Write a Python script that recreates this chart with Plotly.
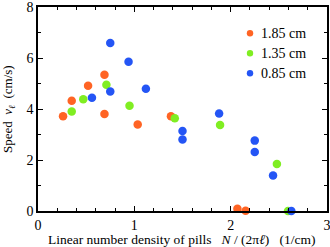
import plotly.graph_objects as go

# 1.85 cm series
x_185 = [0.26, 0.35, 0.52, 0.69, 0.69, 1.035, 1.38, 2.07, 2.155]
y_185 = [3.72, 4.32, 4.91, 5.34, 3.80, 3.39, 3.72, 0.09, 0.01]
# 1.35 cm series
x_135 = [0.35, 0.47, 0.71, 0.95, 1.42, 1.89, 2.48, 2.595]
y_135 = [3.90, 4.38, 4.95, 4.13, 3.64, 3.37, 1.84, 0.0]
# 0.85 cm series
x_085 = [0.56, 0.75, 0.75, 0.94, 1.12, 1.50, 1.50, 1.88, 2.25, 2.25, 2.44, 2.63]
y_085 = [4.44, 6.59, 4.69, 5.85, 4.79, 3.14, 2.80, 3.82, 2.76, 2.31, 1.39, 0.0]

names = ["1.85 cm", "1.35 cm", "0.85 cm"]
colors = ["#FF6424", "#80EE22", "#2455F5"]

FONT = "'Liberation Serif', 'Times New Roman', Times, serif"
fig = go.Figure()
for xs, ys, nm, c in zip([x_185, x_135, x_085], [y_185, y_135, y_085], names, colors):
    fig.add_trace(go.Scatter(x=xs, y=ys, mode="markers", name=nm, showlegend=False,
                             marker=dict(size=8.5, color=c, line=dict(width=0)),
                             cliponaxis=False))

# manual legend (paper coordinates)
leg_x_sym = 0.7336
leg_x_txt = 0.7647
leg_ys = [0.871, 0.773, 0.675]
for nm, c, ly in zip(names, colors, leg_ys):
    fig.add_shape(type="circle", xref="paper", yref="paper",
                  xsizemode="pixel", ysizemode="pixel",
                  xanchor=leg_x_sym, yanchor=ly, x0=-3.2, x1=3.2, y0=-3.2, y1=3.2,
                  fillcolor=c, line=dict(width=0))
    fig.add_annotation(xref="paper", yref="paper", x=leg_x_txt, y=ly,
                       xanchor="left", yanchor="middle", text=nm, showarrow=False,
                       font=dict(family=FONT, size=14, color="black"))

# axis titles
fig.add_annotation(xref="paper", yref="paper", x=-0.104, y=0.5, textangle=-90,
                   xanchor="center", yanchor="middle", showarrow=False,
                   text="Speed  <i>v</i><sub><i>ℓ</i></sub>  (cm/s)",
                   font=dict(family=FONT, size=13, color="black"))
fig.add_annotation(xref="paper", yref="paper", x=0.4965, y=-0.142,
                   xanchor="center", yanchor="middle", showarrow=False,
                   text="Linear number density of pills&nbsp;&nbsp;&nbsp;<i>N</i> / (2π<i>ℓ</i>)&nbsp;&nbsp;&nbsp;(1/cm)",
                   font=dict(family=FONT, size=13.5, color="black"))

axis_common = dict(showline=True, linecolor="black", linewidth=1.5, mirror="allticks",
                   ticks="inside", ticklen=5, tickwidth=1.3, tickcolor="black",
                   showgrid=False, zeroline=False, automargin=False,
                   ticklabeloverflow="allow",
                   tickfont=dict(family=FONT, size=14, color="black"))

fig.update_layout(
    width=330, height=247,
    margin=dict(l=38, r=3, t=7, b=36),
    paper_bgcolor="white", plot_bgcolor="white",
    font=dict(family=FONT, size=13, color="black"),
    showlegend=False,
    xaxis=dict(range=[0, 3], dtick=1, tick0=0,
               minor=dict(dtick=0.2, ticks="inside", ticklen=3, tickwidth=1.2, tickcolor="black"),
               **axis_common),
    yaxis=dict(range=[0, 8], dtick=2, tick0=0,
               minor=dict(dtick=1, ticks="inside", ticklen=3, tickwidth=1.2, tickcolor="black"),
               **axis_common),
)

fig.write_html("out.html", config={"displayModeBar": False},
               post_script="document.body.style.margin='0';document.body.style.overflow='hidden';")
